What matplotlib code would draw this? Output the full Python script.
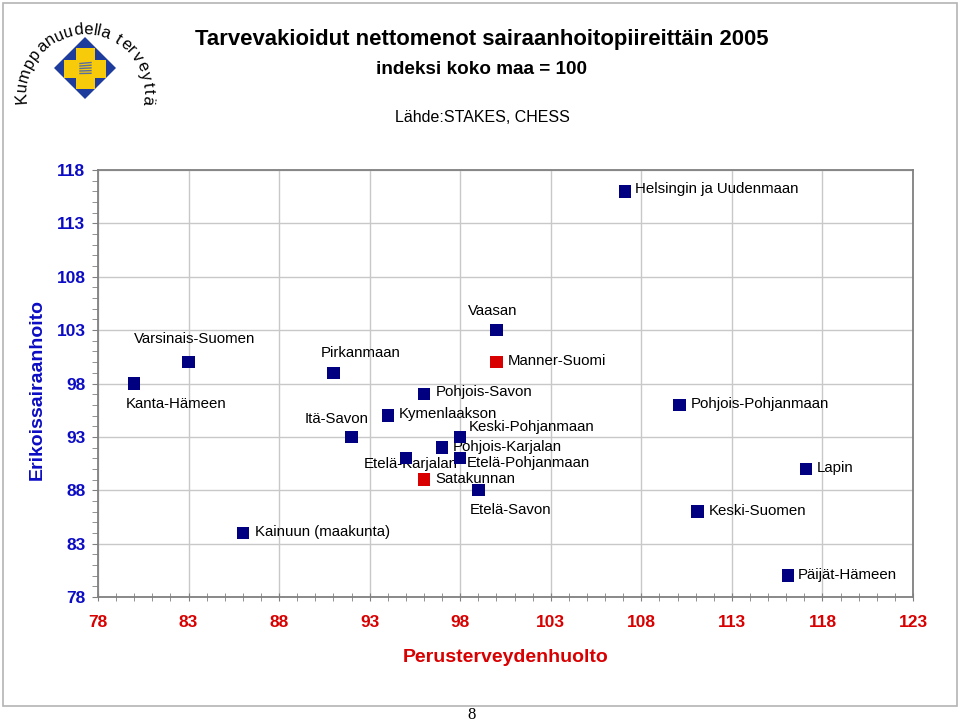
import matplotlib
matplotlib.use("Agg")
import matplotlib.pyplot as plt
from matplotlib.patches import Polygon, Rectangle
from matplotlib.ticker import MultipleLocator
from matplotlib.textpath import TextPath
from matplotlib.font_manager import FontProperties
import numpy as np

plt.rcParams['font.family'] = ['Liberation Sans', 'DejaVu Sans']

# ---------------- data ----------------
regions = ["Helsingin ja Uudenmaan", "Varsinais-Suomen", "Kanta-Hämeen", "Pirkanmaan",
           "Itä-Savon", "Kainuun (maakunta)", "Vaasan", "Manner-Suomi", "Pohjois-Savon",
           "Kymenlaakson", "Keski-Pohjanmaan", "Pohjois-Karjalan", "Etelä-Karjalan",
           "Etelä-Pohjanmaan", "Satakunnan", "Etelä-Savon", "Pohjois-Pohjanmaan",
           "Lapin", "Keski-Suomen", "Päijät-Hämeen"]
perusterveydenhuolto = [107.1, 83.0, 80.0, 91.0, 92.0, 86.0, 100.0, 100.0, 96.0, 94.0,
                        98.0, 97.0, 95.0, 98.0, 96.0, 99.0, 110.1, 117.1, 111.1, 116.1]
erikoissairaanhoito = [116.0, 100.0, 98.0, 99.0, 93.0, 84.0, 103.0, 100.0, 97.0, 95.0,
                       93.0, 92.0, 91.0, 91.0, 89.0, 88.0, 96.0, 90.0, 86.0, 80.0]
highlighted = ["Manner-Suomi", "Satakunnan"]

x_ticks = [78, 83, 88, 93, 98, 103, 108, 113, 118, 123]
y_ticks = [78, 83, 88, 93, 98, 103, 108, 113, 118]

title = "Tarvevakioidut nettomenot sairaanhoitopiireittäin 2005"
subtitle = "indeksi koko maa = 100"
source = "Lähde:STAKES, CHESS"
x_label = "Perusterveydenhuolto"
y_label = "Erikoissairaanhoito"
logo_text = "Kumppanuudella terveyttä"
page_number = "8"

# ---------------- layout ----------------
W, H = 960, 723
BLUE = "#0C0CC4"
RED = "#D80000"
NAVY = "#000080"

# label offsets in pixels (dx, dy up, ha)
label_pos = {
    "Helsingin ja Uudenmaan": (10, 2, "left"),
    "Varsinais-Suomen": (6, 23, "center"),
    "Kanta-Hämeen": (-8, -21, "left"),
    "Pirkanmaan": (-13, 20, "left"),
    "Itä-Savon": (-15, 18, "center"),
    "Kainuun (maakunta)": (12, 1, "left"),
    "Vaasan": (-4, 19, "center"),
    "Manner-Suomi": (11, 1, "left"),
    "Pohjois-Savon": (12, 2, "left"),
    "Kymenlaakson": (11, 2, "left"),
    "Keski-Pohjanmaan": (9, 10, "left"),
    "Pohjois-Karjalan": (11, 1, "left"),
    "Etelä-Karjalan": (5, -6, "center"),
    "Etelä-Pohjanmaan": (7, -5, "left"),
    "Satakunnan": (11, 1, "left"),
    "Etelä-Savon": (-9, -20, "left"),
    "Pohjois-Pohjanmaan": (11, 1, "left"),
    "Lapin": (11, 1, "left"),
    "Keski-Suomen": (11, 1, "left"),
    "Päijät-Hämeen": (10, 1, "left"),
}

fig = plt.figure(figsize=(W / 100, H / 100), dpi=100)

def fx(px):
    return px / W

def fy(py):
    return 1 - py / H

# overlay for page decorations
deco = fig.add_axes([0, 0, 1, 1])
deco.set_xlim(0, W)
deco.set_ylim(H, 0)
deco.axis("off")
deco.add_patch(Rectangle((3, 3), 954, 703, fill=False, edgecolor="#B4B4B4", lw=1.2))
deco.text(472, 715, page_number, family="Liberation Serif", fontsize=12,
          ha="center", va="center", color="black")

# logo
cx, cy = 85, 68
deco.add_patch(Polygon([(cx, 37), (116, cy), (cx, 99), (54, cy)], closed=True,
                       facecolor="#1E3C9C", edgecolor="none"))
deco.add_patch(Rectangle((75.5, 48), 19, 41, facecolor="#F7CB0A", edgecolor="none"))
deco.add_patch(Rectangle((64, 59.5), 42, 18, facecolor="#F7CB0A", edgecolor="none"))
for k in range(5):
    deco.plot([80, 91], [63.5 + k * 2.5, 62.5 + k * 2.7], color="#5A6E9E", lw=1.0)

# logo text along an arc (placed by glyph widths)
logo_fs = 12
fp = FontProperties(family="Liberation Sans", size=logo_fs)
widths = []
for ch in logo_text:
    if ch == " ":
        widths.append(0.28 * logo_fs * 100 / 72)
    else:
        tp = TextPath((0, 0), ch, size=logo_fs * 100 / 72, prop=fp)
        widths.append(tp.get_extents().width + 1.4)
widths = np.array(widths)
ecx, ecy, R = 85, 93, 63
start, end = 190.0, -12.0
total = np.deg2rad(start - end) * R
scale = total / widths.sum()
pos = np.cumsum(widths * scale) - widths * scale / 2
for ch, s in zip(logo_text, pos):
    th = start - np.rad2deg(s / R)
    t = np.deg2rad(th)
    px = ecx + R * np.cos(t)
    py = ecy - R * np.sin(t)
    deco.text(px, py, ch, rotation=th - 90, rotation_mode="anchor",
              ha="center", va="center", fontproperties=fp, color="black")

# titles
fig.text(fx(482), fy(40), title, ha="center", va="center", fontsize=15.9,
         fontweight="bold", color="black")
fig.text(fx(482), fy(70), subtitle, ha="center", va="center", fontsize=13.6,
         fontweight="bold", color="black")
fig.text(fx(482), fy(118), source, ha="center", va="center", fontsize=11.5,
         color="black")

# main axes
ax = fig.add_axes([fx(98), fy(597), (913 - 98) / W, (597 - 170) / H])
ax.set_xlim(x_ticks[0], x_ticks[-1])
ax.set_ylim(y_ticks[0], y_ticks[-1])
ax.set_xticks(x_ticks)
ax.set_yticks(y_ticks)
ax.xaxis.set_minor_locator(MultipleLocator(1))
ax.yaxis.set_minor_locator(MultipleLocator(1))
ax.grid(True, which="major", color="#C8C8C8", lw=1.0)
ax.set_axisbelow(True)
for s in ax.spines.values():
    s.set_color("#808080")
    s.set_linewidth(1.3)
ax.tick_params(axis="x", which="both", direction="inout", color="#808080",
               length=6, labelsize=12.5, labelcolor=RED, pad=10)
ax.tick_params(axis="y", which="both", direction="out", color="#808080",
               length=4, labelsize=12.5, labelcolor=BLUE, pad=5)
for lab in ax.get_xticklabels() + ax.get_yticklabels():
    lab.set_fontweight("bold")

ax.set_xlabel(x_label, fontsize=14, fontweight="bold", color=RED, labelpad=14)
ax.set_ylabel(y_label, fontsize=14, fontweight="bold", color=BLUE)
ax.yaxis.set_label_coords((46 - 98) / 815, (597 - 389) / 427)

colors = [RED if r in highlighted else NAVY for r in regions]
ax.scatter(perusterveydenhuolto, erikoissairaanhoito, marker="s", s=80,
           c=colors, edgecolors="none", zorder=3, clip_on=False)

for name, xv, yv in zip(regions, perusterveydenhuolto, erikoissairaanhoito):
    dx, dy, ha = label_pos[name]
    ax.annotate(name, (xv, yv), xytext=(dx, dy), textcoords="offset pixels",
                ha=ha, va="center", fontsize=10.8, color="black", zorder=2)

fig.savefig("out.png", dpi=100)
